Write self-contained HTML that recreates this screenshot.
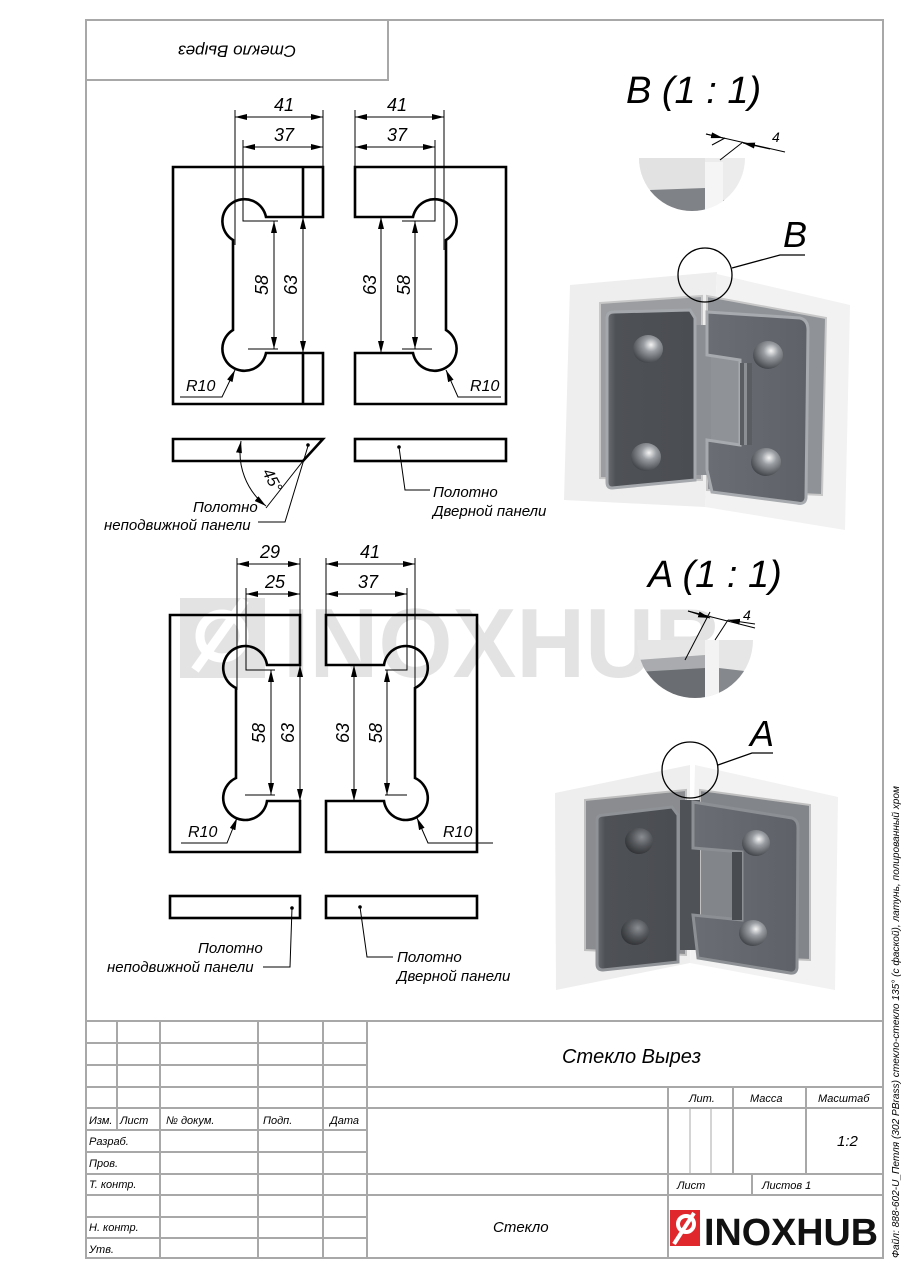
<!DOCTYPE html>
<html><head><meta charset="utf-8"><style>
html,body{margin:0;padding:0;background:#fff;}
svg{display:block;}
text{font-family:"Liberation Sans","Noto Sans CJK SC",sans-serif;font-style:italic;}
</style></head><body>
<svg width="905" height="1280" viewBox="0 0 905 1280" xmlns="http://www.w3.org/2000/svg">
<defs>
<marker id="a" viewBox="0 0 12 6" refX="12" refY="3" markerWidth="12" markerHeight="6" markerUnits="userSpaceOnUse" orient="auto-start-reverse"><path d="M0,0 L12,3 L0,6 Z" fill="#000"/></marker>
<radialGradient id="scr" cx="0.6" cy="0.35" r="0.7"><stop offset="0" stop-color="#f4f4f4"/><stop offset="0.35" stop-color="#9a9ea3"/><stop offset="1" stop-color="#3c3f43"/></radialGradient>
<radialGradient id="scr2" cx="0.6" cy="0.35" r="0.7"><stop offset="0" stop-color="#8a8d91"/><stop offset="0.5" stop-color="#55585c"/><stop offset="1" stop-color="#2e3033"/></radialGradient>
<linearGradient id="pl" x1="0" y1="0" x2="1" y2="0"><stop offset="0" stop-color="#6b6e73"/><stop offset="0.1" stop-color="#4e5156"/><stop offset="1" stop-color="#4a4d52"/></linearGradient>
<linearGradient id="pr" x1="0" y1="0" x2="1" y2="0"><stop offset="0" stop-color="#6a6e74"/><stop offset="1" stop-color="#5e6268"/></linearGradient>
<clipPath id="cB"><path d="M639,158 L745,158 A53,53 0 0 1 639,158 Z"/></clipPath>
<clipPath id="cA"><path d="M637,640 L753,640 A58,58 0 0 1 637,640 Z"/></clipPath>
</defs>

<!-- frame -->
<g fill="none" stroke="#a8a8a8" stroke-width="2">
<rect x="86" y="20" width="797" height="1238"/>
<rect x="86" y="20" width="302" height="60"/>
</g>
<text transform="translate(237,50) rotate(180)" font-size="17" text-anchor="middle" dominant-baseline="middle">Стекло Вырез</text>
<text transform="translate(899,1258) rotate(-90)" font-size="10.5" textLength="472" lengthAdjust="spacingAndGlyphs">Файл: 888-602-U_Петля (302 PBrass) стекло-стекло 135° (с фаской), латунь, полированный хром</text>

<!-- watermark -->
<g opacity="0.6">
<rect x="180" y="598" width="85" height="80" fill="#d2d2d2"/>
<circle cx="222" cy="636" r="22" fill="none" stroke="#fff" stroke-width="9"/>
<path d="M195,670 L245,600" stroke="#fff" stroke-width="9"/>
<text x="283" y="677" font-size="98" font-weight="bold" style="font-style:normal" fill="#d2d2d2" textLength="440" lengthAdjust="spacingAndGlyphs">INOXHUB</text>
</g>

<!-- TOP DRAWINGS -->
<g fill="none" stroke="#000" stroke-width="2.6">
<path d="M173,167 L323,167 L323,217 L266,217 A22,22 0 1 0 233,240 L233,330 A22,22 0 1 0 266,353 L323,353 L323,404 L173,404 Z"/>
<path d="M303,167 V217 M303,353 V404"/>
<path d="M506,167 L355,167 L355,217 L413,217 A22,22 0 1 1 446,240 L446,330 A22,22 0 1 1 413,353 L355,353 L355,404 L506,404 Z"/>
<path d="M173,439 L323,439 L303,461 L173,461 Z"/>
<rect x="355" y="439" width="151" height="22"/>
</g>
<g fill="none" stroke="#000" stroke-width="1">
<path d="M235,110 V245 M323,110 V167 M243,140 V221 H278 M248,349 H278"/>
<path d="M444,110 V250 M355,110 V167 M435,140 V221 H402 M402,349 H432"/>
<path d="M235,117 H323" marker-start="url(#a)" marker-end="url(#a)"/>
<path d="M243,147 H323" marker-start="url(#a)" marker-end="url(#a)"/>
<path d="M355,117 H444" marker-start="url(#a)" marker-end="url(#a)"/>
<path d="M355,147 H435" marker-start="url(#a)" marker-end="url(#a)"/>
<path d="M274,221 V349" marker-start="url(#a)" marker-end="url(#a)"/>
<path d="M303,217 V353" marker-start="url(#a)" marker-end="url(#a)"/>
<path d="M381,217 V353" marker-start="url(#a)" marker-end="url(#a)"/>
<path d="M415,221 V349" marker-start="url(#a)" marker-end="url(#a)"/>
<path d="M180,397 H222 L235,370" marker-end="url(#a)"/>
<path d="M501,397 H458 L446,370" marker-end="url(#a)"/>
<path d="M303,461 L266,508"/>
<path d="M241,441 A68,68 0 0 0 266,506" marker-start="url(#a)" marker-end="url(#a)"/>
<path d="M308,446 L285,522 H258"/>
<path d="M399,447 L405,490 H430"/>
<path d="M292,908 L290,967 H263"/>
<path d="M360,907 L367,957 H393"/>
</g>
<circle cx="308" cy="445" r="1.8"/><circle cx="399" cy="447" r="1.8"/>
<g font-size="18">
<text x="284" y="111" text-anchor="middle">41</text>
<text x="284" y="141" text-anchor="middle">37</text>
<text x="397" y="111" text-anchor="middle">41</text>
<text x="397" y="141" text-anchor="middle">37</text>
<text transform="translate(268,285) rotate(-90)" text-anchor="middle">58</text>
<text transform="translate(297,285) rotate(-90)" text-anchor="middle">63</text>
<text transform="translate(376,285) rotate(-90)" text-anchor="middle">63</text>
<text transform="translate(410,285) rotate(-90)" text-anchor="middle">58</text>
<text x="186" y="391" font-size="16">R10</text>
<text x="470" y="391" font-size="16">R10</text>
<text transform="translate(262,472) rotate(62)" font-size="16">45°</text>
</g>
<g font-size="15">
<text x="193" y="512">Полотно</text>
<text x="104" y="530">неподвижной панели</text>
<text x="433" y="497">Полотно</text>
<text x="433" y="516">Дверной панели</text>
</g>

<!-- BOTTOM DRAWINGS -->
<g fill="none" stroke="#000" stroke-width="2.6">
<path d="M170,615 L300,615 L300,665 L267,665 A22,22 0 1 0 236,688 L236,778 A22,22 0 1 0 267,801 L300,801 L300,852 L170,852 Z"/>
<path d="M477,615 L326,615 L326,665 L384,665 A22,22 0 1 1 415,688 L415,778 A22,22 0 1 1 384,801 L326,801 L326,852 L477,852 Z"/>
<rect x="170" y="896" width="130" height="22"/>
<rect x="326" y="896" width="151" height="22"/>
</g>
<g fill="none" stroke="#000" stroke-width="1">
<path d="M237,558 V690 M300,558 V615 M246,588 V670 H275 M245,795 H275"/>
<path d="M415,558 V690 M326,558 V615 M407,588 V670 H385 M385,795 H407"/>
<path d="M237,564 H300" marker-start="url(#a)" marker-end="url(#a)"/>
<path d="M246,594 H300" marker-start="url(#a)" marker-end="url(#a)"/>
<path d="M326,564 H415" marker-start="url(#a)" marker-end="url(#a)"/>
<path d="M326,594 H407" marker-start="url(#a)" marker-end="url(#a)"/>
<path d="M271,670 V795" marker-start="url(#a)" marker-end="url(#a)"/>
<path d="M300,665 V801" marker-start="url(#a)" marker-end="url(#a)"/>
<path d="M354,665 V801" marker-start="url(#a)" marker-end="url(#a)"/>
<path d="M387,670 V795" marker-start="url(#a)" marker-end="url(#a)"/>
<path d="M181,843 H227 L237,818" marker-end="url(#a)"/>
<path d="M493,843 H428 L417,818" marker-end="url(#a)"/>
</g>
<circle cx="292" cy="908" r="1.8"/><circle cx="360" cy="907" r="1.8"/>
<g font-size="18">
<text x="270" y="558" text-anchor="middle">29</text>
<text x="275" y="588" text-anchor="middle">25</text>
<text x="370" y="558" text-anchor="middle">41</text>
<text x="368" y="588" text-anchor="middle">37</text>
<text transform="translate(265,733) rotate(-90)" text-anchor="middle">58</text>
<text transform="translate(294,733) rotate(-90)" text-anchor="middle">63</text>
<text transform="translate(349,733) rotate(-90)" text-anchor="middle">63</text>
<text transform="translate(382,733) rotate(-90)" text-anchor="middle">58</text>
<text x="188" y="837" font-size="16">R10</text>
<text x="443" y="837" font-size="16">R10</text>
</g>
<g font-size="15">
<text x="198" y="953">Полотно</text>
<text x="107" y="972">неподвижной панели</text>
<text x="397" y="962">Полотно</text>
<text x="397" y="981">Дверной панели</text>
</g>

<!-- DETAIL B -->
<text x="626" y="103" font-size="38">B (1 : 1)</text>
<g clip-path="url(#cB)">
<rect x="630" y="150" width="130" height="80" fill="#ececec"/>
<rect x="630" y="150" width="75" height="80" fill="#e2e2e2"/>
<path d="M650,190 L705,188 L705,230 L650,230 Z" fill="#7f8287"/>
<rect x="705" y="162" width="18" height="70" fill="#f5f5f5"/>
<path d="M723,200 L745,198 L745,230 L723,230 Z" fill="#9ea1a5"/>
</g>
<g fill="none" stroke="#000" stroke-width="1">
<path d="M706,134 L785,152"/>
<path d="M712,145 L725,138" /><path d="M720,160 L743,142"/>
<path d="M706,134 L723,138" marker-end="url(#a)"/>
<path d="M770,149 L743,143" marker-end="url(#a)"/>
</g>
<text x="772" y="142" font-size="14">4</text>

<!-- HINGE B -->
<path d="M570,285 L717,272 L705,507 L564,500 Z" fill="#eeeeee"/>
<path d="M717,274 L850,305 L845,530 L705,507 Z" fill="#f2f2f2"/>
<path d="M600,303 L702,296 L702,480 L600,478 Z" fill="#9b9da0" stroke="#c8c8c8" stroke-width="2"/>
<path d="M707,296 L826,318 L822,495 L707,490 Z" fill="#8f9296" stroke="#c8c8c8" stroke-width="2"/>
<rect x="693" y="325" width="18" height="150" fill="#8b8f94"/>
<path d="M607,318 Q607,312 614,312 L690,310 L695,318 L695,480 L612,488 Q607,488 607,482 Z" fill="url(#pl)" stroke="#a5a8ac" stroke-width="3"/>
<path d="M707,312 L800,318 Q808,320 808,330 L806,498 Q805,505 797,503 L712,492 L707,470 L707,440 L740,445 L740,360 L707,355 Z" fill="url(#pr)" stroke="#a7aaae" stroke-width="3"/>
<rect x="740" y="363" width="12" height="82" fill="#5a5d62"/>
<rect x="744" y="363" width="3" height="82" fill="#8c9095"/>
<ellipse cx="648" cy="349" rx="15" ry="14" fill="url(#scr)"/>
<ellipse cx="646" cy="457" rx="15" ry="14" fill="url(#scr)"/>
<ellipse cx="768" cy="355" rx="15" ry="14" fill="url(#scr)"/>
<ellipse cx="766" cy="462" rx="15" ry="14" fill="url(#scr)"/>
<circle cx="705" cy="275" r="27" fill="none" stroke="#000" stroke-width="1.3"/>
<path d="M732,268 L780,255 H805" fill="none" stroke="#000" stroke-width="1.3"/>
<text x="783" y="247" font-size="36">B</text>

<!-- DETAIL A -->
<text x="648" y="587" font-size="38">A (1 : 1)</text>
<g clip-path="url(#cA)">
<rect x="630" y="630" width="130" height="90" fill="#e6e6e6"/>
<path d="M637,665 L705,660 L705,720 L637,720 Z" fill="#6a6d71"/>
<path d="M637,660 L705,655 L705,668 L637,672 Z" fill="#a9abae"/>
<rect x="705" y="640" width="14" height="80" fill="#f3f3f3"/>
<path d="M719,668 L753,672 L753,720 L719,720 Z" fill="#85888c"/>
</g>
<g fill="none" stroke="#000" stroke-width="1">
<path d="M685,660 L710,612"/><path d="M715,640 L728,620"/>
<path d="M688,611 L710,618" marker-end="url(#a)"/>
<path d="M755,624 L728,620" marker-end="url(#a)"/>
<path d="M688,611 L755,628"/>
</g>
<text x="743" y="620" font-size="14">4</text>

<!-- HINGE A -->
<path d="M555,793 L690,765 L690,963 L556,990 Z" fill="#eeeeee"/>
<path d="M695,765 L838,797 L835,990 L690,963 Z" fill="#f2f2f2"/>
<path d="M585,800 L686,790 L686,955 L585,950 Z" fill="#8a8c8f" stroke="#c0c0c0" stroke-width="2"/>
<path d="M700,790 L810,805 L810,960 L700,955 Z" fill="#828589" stroke="#c0c0c0" stroke-width="2"/>
<rect x="680" y="800" width="20" height="150" fill="#4f5256"/>
<path d="M597,820 Q597,815 604,815 L672,807 L678,815 L678,962 L603,970 Q597,970 597,964 Z" fill="url(#pl)" stroke="#8f9296" stroke-width="3"/>
<path d="M693,802 L792,818 Q798,820 798,828 L797,968 Q796,974 790,973 L698,958 L693,915 L742,920 L742,852 L693,848 Z" fill="url(#pr)" stroke="#8c9094" stroke-width="3"/>
<rect x="732" y="852" width="10" height="68" fill="#484b4f"/>
<ellipse cx="639" cy="841" rx="14" ry="13" fill="url(#scr2)"/>
<ellipse cx="635" cy="932" rx="14" ry="13" fill="url(#scr2)"/>
<ellipse cx="756" cy="843" rx="14" ry="13" fill="url(#scr)"/>
<ellipse cx="753" cy="933" rx="14" ry="13" fill="url(#scr)"/>
<circle cx="690" cy="770" r="28" fill="none" stroke="#000" stroke-width="1.3"/>
<path d="M718,765 L752,753 H773" fill="none" stroke="#000" stroke-width="1.3"/>
<text x="750" y="746" font-size="36">A</text>

<!-- TITLE BLOCK -->
<g fill="none" stroke="#a8a8a8" stroke-width="2">
<path d="M86,1021 H883"/>
<path d="M86,1043 H367 M86,1065 H367 M86,1087 H883 M86,1108 H883 M86,1130 H367 M86,1152 H367 M86,1174 H883 M86,1195 H883 M86,1217 H367 M86,1238 H367"/>
<path d="M117,1021 V1130 M160,1021 V1258 M258,1021 V1258 M323,1021 V1258 M367,1021 V1258"/>
<path d="M668,1087 V1258 M733,1087 V1174 M806,1087 V1174 M752,1174 V1195"/>
<path d="M690,1108 V1174 M711,1108 V1174" stroke-width="1"/>
</g>
<g font-size="11">
<text x="89" y="1124">Изм.</text><text x="120" y="1124">Лист</text><text x="166" y="1124">№ докум.</text><text x="263" y="1124">Подп.</text><text x="330" y="1124">Дата</text>
<text x="89" y="1145">Разраб.</text><text x="89" y="1167">Пров.</text><text x="89" y="1188">Т. контр.</text>
<text x="89" y="1231">Н. контр.</text><text x="89" y="1253">Утв.</text>
<text x="689" y="1102">Лит.</text><text x="750" y="1102">Масса</text><text x="818" y="1102">Масштаб</text>
<text x="677" y="1189">Лист</text><text x="762" y="1189">Листов 1</text>
</g>
<text x="837" y="1146" font-size="15">1:2</text>
<text x="562" y="1063" font-size="20">Стекло Вырез</text>
<text x="493" y="1232" font-size="15">Стекло</text>
<rect x="670" y="1210" width="30" height="36" fill="#e0282c"/>
<circle cx="686" cy="1224" r="8" fill="none" stroke="#fff" stroke-width="4"/>
<path d="M674,1244 L694,1213" stroke="#fff" stroke-width="4"/>
<text x="704" y="1245" font-size="38" font-weight="bold" style="font-style:normal" fill="#111" textLength="174" lengthAdjust="spacingAndGlyphs">INOXHUB</text>
</svg>
</body></html>
